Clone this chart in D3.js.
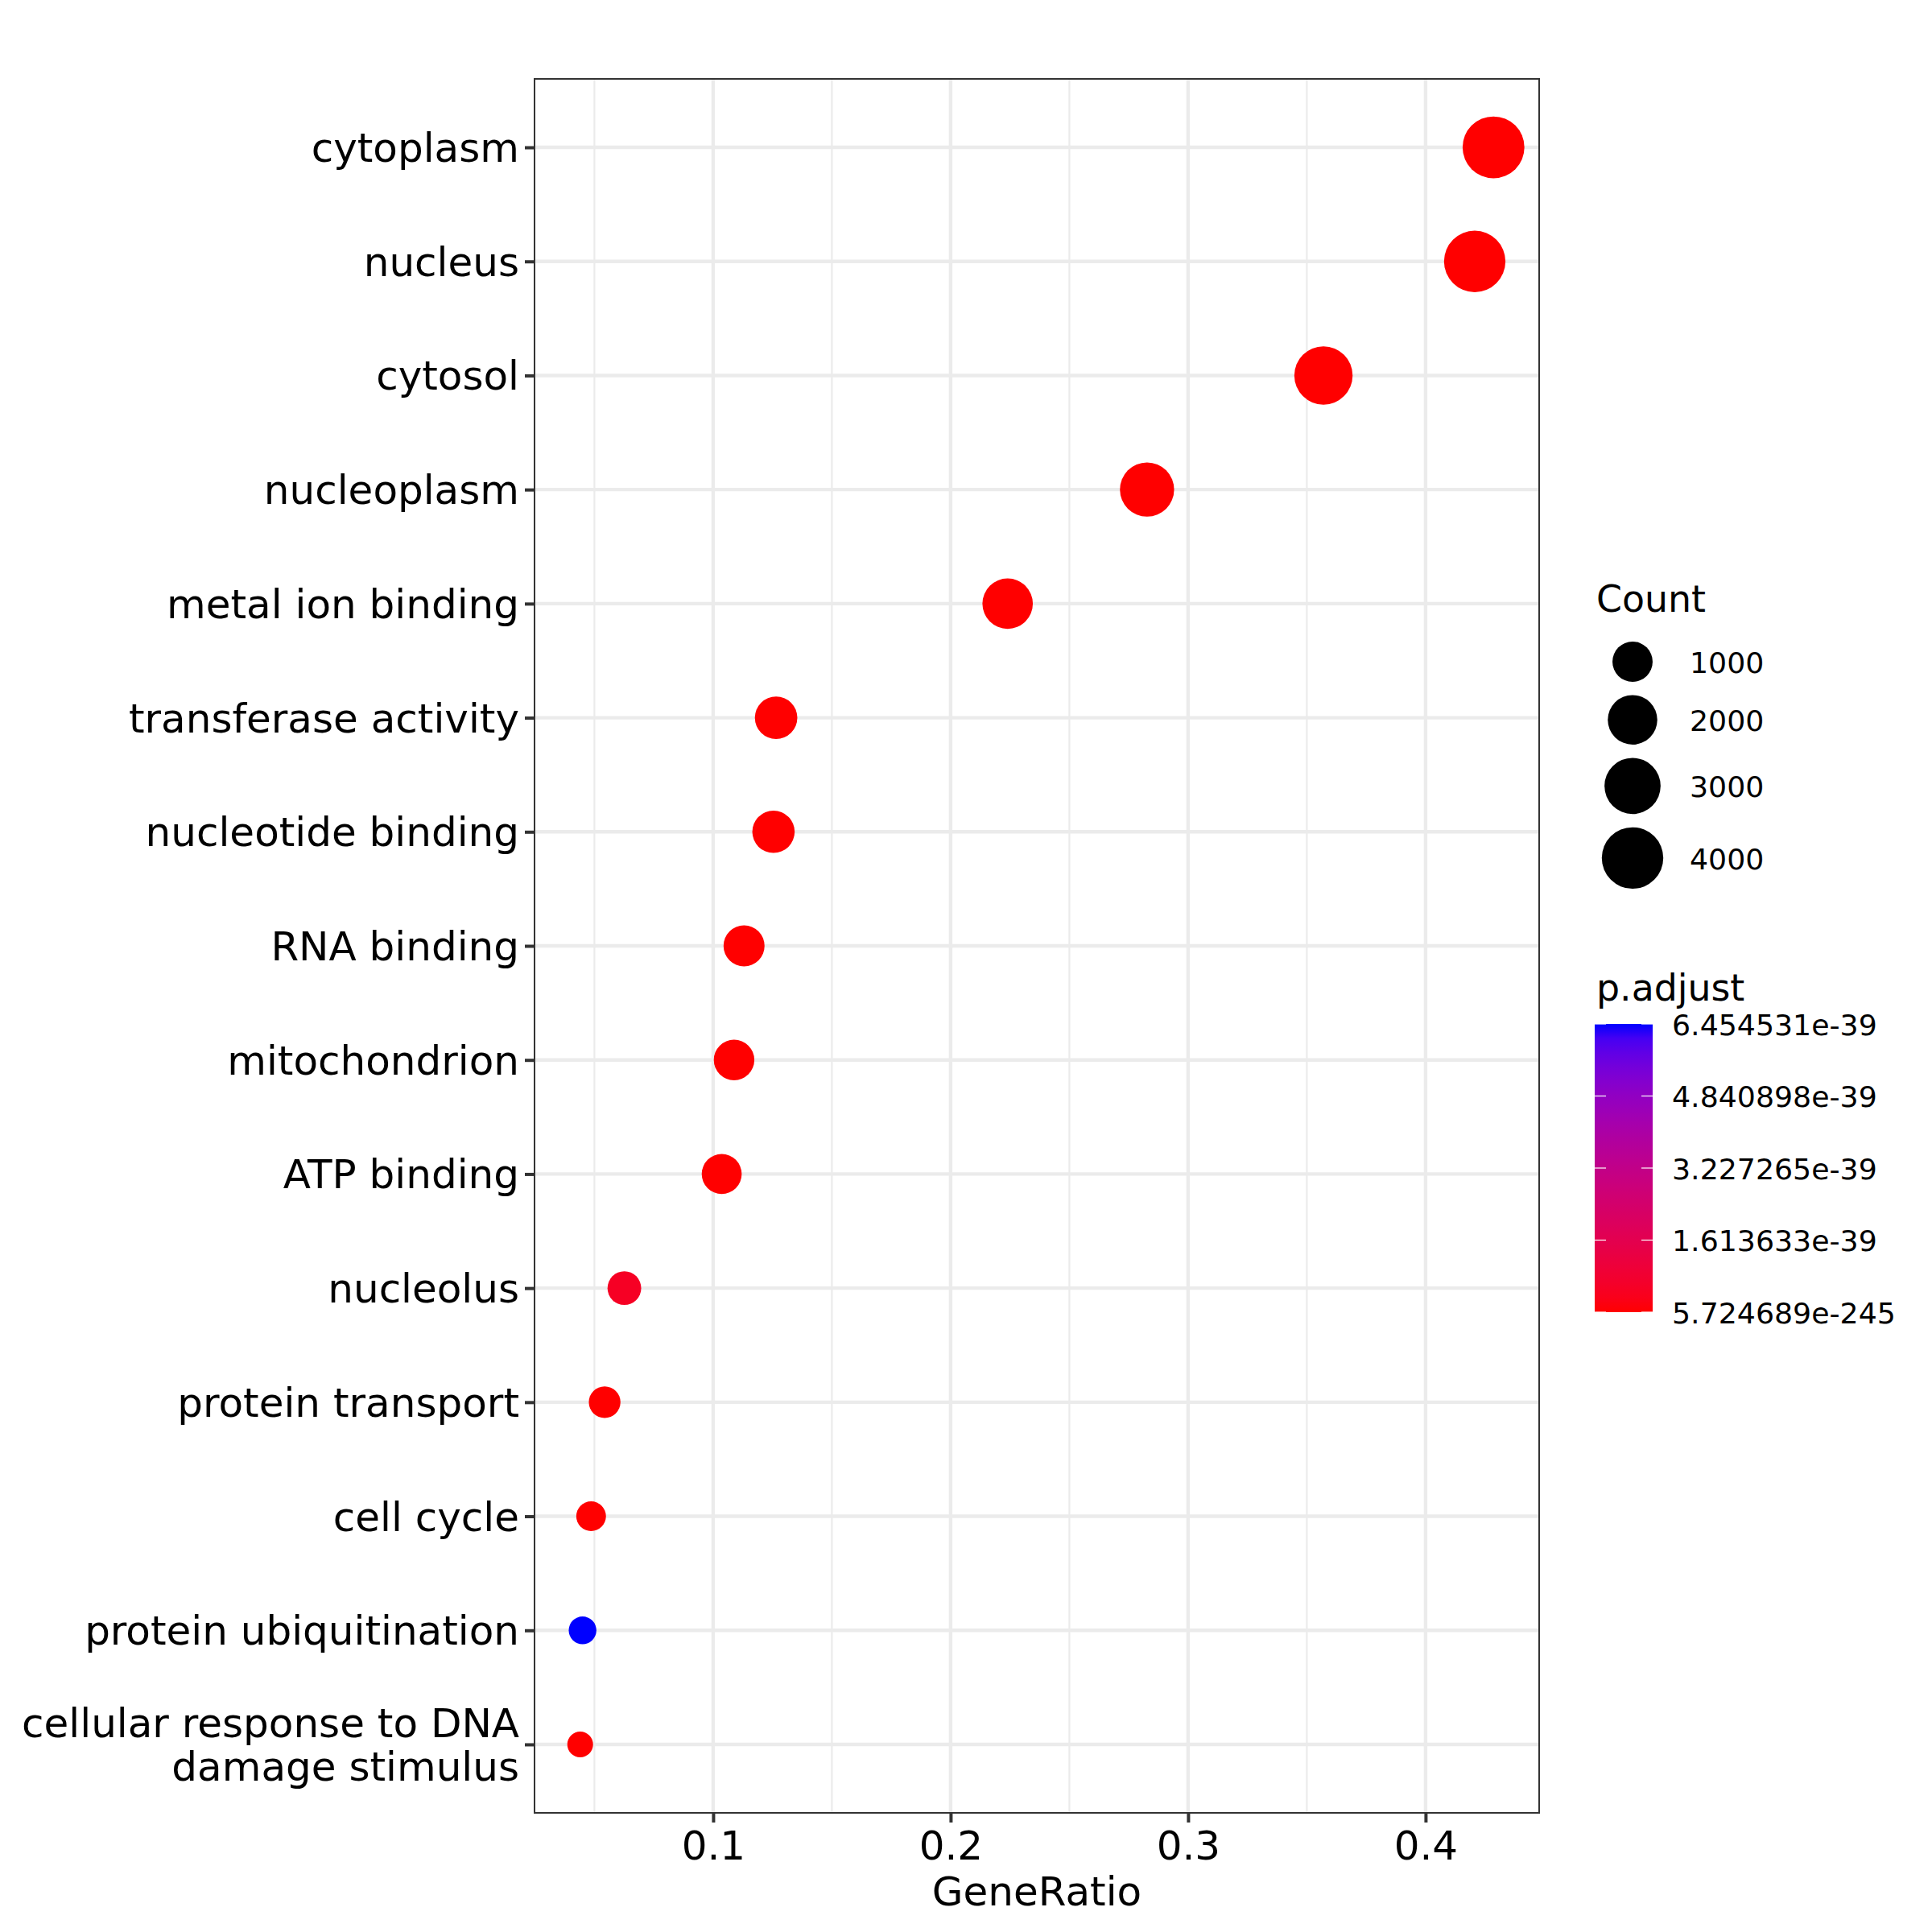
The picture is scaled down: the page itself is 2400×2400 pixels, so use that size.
<!DOCTYPE html>
<html><head><meta charset="utf-8">
<script src="https://cdn.jsdelivr.net/npm/d3@7"></script>
<style>body{margin:0;background:#fff} text{font-family:"DejaVu Sans",sans-serif}</style>
</head><body>
<svg id="chart" width="2400" height="2400" xmlns="http://www.w3.org/2000/svg"></svg>
<script>
// ---- data ----
const categories = ["cytoplasm","nucleus","cytosol","nucleoplasm","metal ion binding","transferase activity","nucleotide binding","RNA binding","mitochondrion","ATP binding","nucleolus","protein transport","cell cycle","protein ubiquitination","cellular response to DNA\ndamage stimulus"];
const geneRatio = [0.4286,0.4207,0.3570,0.2827,0.2240,0.1265,0.1254,0.1130,0.1088,0.1036,0.0626,0.0543,0.0486,0.0450,0.0440];
const counts = [4066,3987,3384,2680,2123,1199,1189,1071,1031,982,593,515,461,427,417];
const pAdjust = [5.724689e-245,1e-200,1e-180,1e-150,1e-120,1e-90,1e-85,1e-80,1e-70,1e-75,5.2e-40,1e-50,1e-45,6.454531e-39,1e-60];
const xTicks = [0.1,0.2,0.3,0.4];
const xTickLabels = ["0.1","0.2","0.3","0.4"];
const countBreaks = [1000,2000,3000,4000];
const pBreaks = [5.724689e-245,1.613633e-39,3.227265e-39,4.840898e-39,6.454531e-39];
const pLabels = ["5.724689e-245","1.613633e-39","3.227265e-39","4.840898e-39","6.454531e-39"];

// ---- layout ----
const svg = d3.select("#chart");
const P = {left:664, right:1912, top:98, bottom:2252};
const axisFont = 50, legTitleFont = 45.8, legTextFont = 36.3;

const xr = d3.extent(geneRatio), xpad = (xr[1]-xr[0])*0.05;
const x = d3.scaleLinear().domain([xr[0]-xpad, xr[1]+xpad]).range([P.left, P.right]);
const y = d3.scalePoint().domain(categories).range([P.top, P.bottom]).padding(0.6);

const cmin = d3.min(counts), cmax = d3.max(counts);
const rT = d3.scaleLinear().domain([0,1]).range([16,38.4]);
const radius = c => rT(Math.sqrt(Math.max(0,(c-cmin)/(cmax-cmin))));

const color = d3.scaleLinear().domain([d3.min(pAdjust), d3.max(pAdjust)])
  .range(["red","blue"]).interpolate(d3.interpolateLab);

svg.append("rect").attr("width",2400).attr("height",2400).attr("fill","#fff");

// grid
const dom = x.domain();
const minor = [];
for (let i=0;i<=xTicks.length;i++){
  const step = xTicks[1]-xTicks[0];
  const v = xTicks[0] - step/2 + i*step;
  if (v>dom[0] && v<dom[1]) minor.push(v);
}
const g = svg.append("g");
g.selectAll(".minor").data(minor).join("line")
  .attr("x1",d=>x(d)).attr("x2",d=>x(d)).attr("y1",P.top).attr("y2",P.bottom)
  .attr("stroke","#ebebeb").attr("stroke-width",2.2);
g.selectAll(".majx").data(xTicks).join("line")
  .attr("x1",d=>x(d)).attr("x2",d=>x(d)).attr("y1",P.top).attr("y2",P.bottom)
  .attr("stroke","#ebebeb").attr("stroke-width",4.4);
g.selectAll(".majy").data(categories).join("line")
  .attr("x1",P.left).attr("x2",P.right).attr("y1",d=>y(d)).attr("y2",d=>y(d))
  .attr("stroke","#ebebeb").attr("stroke-width",4.4);

// points
const pts = categories.map((c,i)=>({c, r:geneRatio[i], n:counts[i], p:pAdjust[i]}));
svg.append("g").selectAll("circle").data(pts).join("circle")
  .attr("cx",d=>x(d.r)).attr("cy",d=>y(d.c)).attr("r",d=>radius(d.n))
  .attr("fill",d=>color(d.p));

// border
svg.append("rect").attr("x",P.left).attr("y",P.top)
  .attr("width",P.right-P.left).attr("height",P.bottom-P.top)
  .attr("fill","none").attr("stroke","#333").attr("stroke-width",2);

// x axis
const xa = svg.append("g").attr("transform",`translate(0,${P.bottom})`)
  .call(d3.axisBottom(x).tickValues(xTicks).tickFormat((d,i)=>xTickLabels[i]).tickSize(12).tickPadding(10.5));
xa.select(".domain").remove();
xa.selectAll(".tick line").attr("stroke","#333").attr("stroke-width",4);
xa.selectAll(".tick text").attr("font-size",axisFont).attr("fill","#000").attr("font-family","DejaVu Sans");
svg.append("text").attr("x",(P.left+P.right)/2).attr("y",2367).attr("text-anchor","middle")
  .attr("font-size",axisFont).attr("fill","#000").text("GeneRatio");

// y axis
const ya = svg.append("g").attr("transform",`translate(${P.left},0)`)
  .call(d3.axisLeft(y).tickSize(12).tickFormat(""));
ya.select(".domain").remove();
ya.selectAll(".tick line").attr("stroke","#333").attr("stroke-width",4);
const yl = svg.append("g");
categories.forEach(c=>{
  const lines = c.split("\n"), lh = 54;
  const t = yl.append("text").attr("text-anchor","end").attr("font-size",axisFont).attr("fill","#000");
  lines.forEach((s,k)=>{
    t.append("tspan").attr("x",P.left-19).attr("y", y(c)+18-(lines.length-1)*lh/2+k*lh).text(s);
  });
});

// legend: Count
const lx = 1983;
svg.append("text").attr("x",lx).attr("y",760).attr("font-size",legTitleFont).attr("fill","#000").text("Count");
let cy = 822 - radius(countBreaks[0]);
const keys = [];
countBreaks.forEach((b,i)=>{
  const r = radius(b);
  if (i>0) cy += 16.5;
  keys.push({b, r, cy: cy + r});
  cy += 2*r;
});
const lg = svg.append("g");
lg.selectAll("circle").data(keys).join("circle")
  .attr("cx",2028).attr("cy",d=>d.cy).attr("r",d=>d.r).attr("fill","#000");
lg.selectAll("text").data(keys).join("text")
  .attr("x",2099).attr("y",d=>d.cy).attr("dy","0.38em").attr("font-size",legTextFont).attr("fill","#000")
  .text(d=>d.b);

// legend: p.adjust colourbar
svg.append("text").attr("x",lx).attr("y",1243).attr("font-size",legTitleFont).attr("fill","#000").text("p.adjust");
const bar = {x:1981, w:72, top:1272, bottom:1630};
const by = d3.scaleLinear().domain(color.domain()).range([bar.bottom, bar.top]);
const defs = svg.append("defs");
const grad = defs.append("linearGradient").attr("id","pg").attr("x1",0).attr("y1",1).attr("x2",0).attr("y2",0);
d3.range(0,1.0001,0.05).forEach(t=>{
  const v = color.domain()[0] + t*(color.domain()[1]-color.domain()[0]);
  grad.append("stop").attr("offset",t).attr("stop-color",color(v));
});
svg.append("rect").attr("x",bar.x).attr("y",bar.top).attr("width",bar.w).attr("height",bar.bottom-bar.top)
  .attr("fill","url(#pg)");
const tk = svg.append("g");
pBreaks.forEach(v=>{
  const yy = by(v);
  tk.append("line").attr("x1",bar.x).attr("x2",bar.x+14).attr("y1",yy).attr("y2",yy).attr("stroke","#fff").attr("stroke-width",1.2);
  tk.append("line").attr("x1",bar.x+bar.w-14).attr("x2",bar.x+bar.w).attr("y1",yy).attr("y2",yy).attr("stroke","#fff").attr("stroke-width",1.2);
});
tk.selectAll("text").data(pBreaks).join("text")
  .attr("x",2077).attr("y",d=>by(d)).attr("dy","0.38em").attr("font-size",legTextFont).attr("fill","#000")
  .text((d,i)=>pLabels[i]);
</script>
</body></html>
